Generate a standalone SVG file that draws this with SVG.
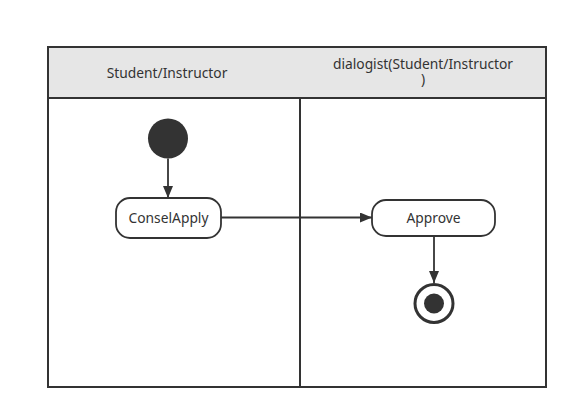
<svg xmlns="http://www.w3.org/2000/svg" width="578" height="420" viewBox="0 0 578 420">
<defs>
<style>
.lbl{font-family:"Noto Sans","Open Sans","Liberation Sans",sans-serif;font-size:13.8px;fill:#333;text-anchor:middle}
.act{fill:#fff;stroke:#333;stroke-width:1.8}
.ln{stroke:#333;stroke-width:1.8;fill:none}
</style>
<marker id="ah" viewBox="0 0 12 10" refX="12" refY="5" markerWidth="12" markerHeight="10" markerUnits="userSpaceOnUse" orient="auto">
<path d="M0,0 L12,5 L0,10 z" fill="#333"/>
</marker>
</defs>
<rect width="578" height="420" fill="#fff"/>
<g id="pool">
<rect x="48" y="47" width="498" height="51" fill="#e6e6e6"/>
<rect x="48" y="47" width="498" height="340" fill="none" stroke="#333" stroke-width="2"/>
<line x1="48" y1="98" x2="546" y2="98" stroke="#333" stroke-width="2"/>
<line x1="300" y1="98" x2="300" y2="387" stroke="#333" stroke-width="2"/>
<text class="lbl" x="167" y="78">Student/Instructor</text>
<text class="lbl"><tspan x="423" y="69">dialogist(Student/Instructor</tspan><tspan x="423" y="84">)</tspan></text>
</g>
<g id="start">
<circle cx="168" cy="138.5" r="20" fill="#333"/>
</g>
<g id="conselapply">
<rect class="act" x="116" y="198" width="105" height="40" rx="14"/>
<text class="lbl" x="168.5" y="223">ConselApply</text>
</g>
<g id="approve">
<rect class="act" x="372" y="200" width="123" height="36" rx="14"/>
<text class="lbl" x="433.5" y="223">Approve</text>
</g>
<g id="end">
<circle cx="434" cy="303.5" r="19" fill="#fff" stroke="#333" stroke-width="3"/>
<circle cx="434" cy="303.5" r="10" fill="#333"/>
</g>
<g id="connectors">
<line class="ln" x1="168" y1="158.5" x2="168" y2="198" marker-end="url(#ah)"/>
<line class="ln" x1="221" y1="217.5" x2="372" y2="217.5" marker-end="url(#ah)"/>
<line class="ln" x1="434" y1="236" x2="434" y2="283" marker-end="url(#ah)"/>
</g>
</svg>
